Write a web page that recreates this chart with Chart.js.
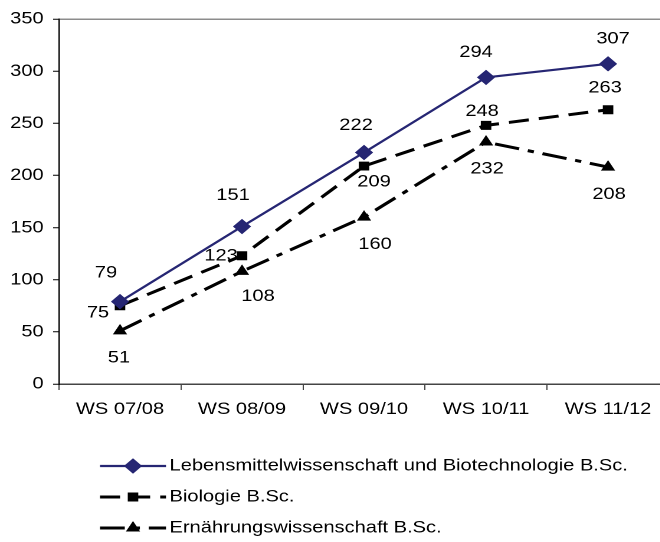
<!DOCTYPE html>
<html>
<head>
<meta charset="utf-8">
<script src="https://cdn.jsdelivr.net/npm/chart.js@4.4.0/dist/chart.umd.min.js"></script>
<style>
  html, body { margin: 0; padding: 0; background: #fff; overflow: hidden; }
  #graph_div { width: 660px; height: 542px; overflow: hidden; }
  #my_chart { transform: scaleX(1.18); transform-origin: 0 0; }
</style>
</head>
<body>
<div id="graph_div"><canvas id="my_chart" width="575" height="542"></canvas></div>
<script>
// the original picture is stretched sideways, so the chart is drawn narrow and scaled
const stretch = 1.18;

const semesters = ['WS 07/08', 'WS 08/09', 'WS 09/10', 'WS 10/11', 'WS 11/12'];
const series_names = [
  'Lebensmittelwissenschaft und Biotechnologie B.Sc.',
  'Biologie B.Sc.',
  'Ernährungswissenschaft B.Sc.'
];
const lebensmittel = [79, 151, 222, 294, 307];
const biologie = [75, 123, 209, 248, 263];
const ernaehrung = [51, 108, 160, 232, 208];
const y_ticks = [0, 50, 100, 150, 200, 250, 300, 350];

// where each value label sits relative to its point (picture pixels)
const label_shift = [
  [[-14, -29], [-9, -31], [-8, -27], [-10, -25], [5, -25]],
  [[-22, 7], [-21, 0], [10, 16], [-4, -14], [-3, -22]],
  [[-1, 27], [16, 25], [11, 27], [1, 27], [1, 27]]
];

const navy = '#262673';
const font_family = "'Liberation Sans', Arial, sans-serif";
const font_size = 17;

const value_labels = {
  id: 'value_labels',
  afterDatasetsDraw(chart) {
    const ctx = chart.ctx;
    ctx.save();
    ctx.font = font_size + 'px ' + font_family;
    ctx.fillStyle = '#000';
    ctx.textAlign = 'center';
    ctx.textBaseline = 'middle';
    chart.data.datasets.forEach(function(ds, i) {
      const meta = chart.getDatasetMeta(i);
      meta.data.forEach(function(pt, j) {
        const s = label_shift[i][j];
        ctx.fillText(String(ds.data[j]), pt.x + s[0] / stretch, pt.y + s[1]);
      });
    });
    ctx.restore();
  }
};

// legend stacked under the axis like the original
const stacked_legend = {
  id: 'stacked_legend',
  afterDraw(chart) {
    const ctx = chart.ctx;
    const rows = [466, 497, 528];
    const x0 = 100 / stretch, x1 = 166 / stretch;
    chart.data.datasets.forEach(function(ds, i) {
      const y = rows[i];
      ctx.save();
      ctx.strokeStyle = ds.borderColor;
      ctx.lineWidth = ds.borderWidth;
      ctx.setLineDash(ds.borderDash || []);
      ctx.beginPath();
      ctx.moveTo(x0, y);
      ctx.lineTo(x1, y);
      ctx.stroke();
      ctx.setLineDash([]);
      ctx.fillStyle = ds.pointBackgroundColor;
      ctx.strokeStyle = ds.pointBorderColor;
      ctx.lineWidth = 1;
      Chart.helpers.drawPoint(ctx, {
        pointStyle: ds.pointStyle,
        rotation: 0,
        borderWidth: 1,
        radius: ds.pointRadius
      }, (x0 + x1) / 2, y);
      ctx.font = font_size + 'px ' + font_family;
      ctx.fillStyle = '#000';
      ctx.textAlign = 'left';
      ctx.textBaseline = 'middle';
      ctx.fillText(ds.label, x1 + 3, y);
      ctx.restore();
    });
  }
};

function create_chart() {
  const data = {
    labels: semesters,
    datasets: [{
      label: series_names[0],
      data: lebensmittel,
      borderColor: navy,
      borderWidth: 2.2,
      pointStyle: 'rectRot',
      pointRadius: 7,
      pointBackgroundColor: navy,
      pointBorderColor: navy,
      pointBorderWidth: 1
    }, {
      label: series_names[1],
      data: biologie,
      borderColor: '#000',
      borderWidth: 3,
      borderDash: [17, 8.5],
      pointStyle: 'rect',
      pointRadius: 5.6,
      pointBackgroundColor: '#000',
      pointBorderColor: '#000',
      pointBorderWidth: 1
    }, {
      label: series_names[2],
      data: ernaehrung,
      borderColor: '#000',
      borderWidth: 3,
      borderDash: [21, 7.5, 5.3, 7.5],
      pointStyle: 'triangle',
      pointRadius: 6,
      pointBackgroundColor: '#000',
      pointBorderColor: '#000',
      pointBorderWidth: 1
    }]
  };

  const config = {
    type: 'line',
    data,
    options: {
      responsive: false,
      animation: false,
      devicePixelRatio: 2,
      layout: { padding: { top: 19, right: 4, left: 0, bottom: 0 } },
      elements: { line: { tension: 0 } },
      plugins: {
        legend: { display: false },
        tooltip: { enabled: false }
      },
      scales: {
        x: {
          offset: true,
          grid: {
            offset: true,
            drawOnChartArea: false,
            tickLength: 6,
            tickColor: '#444',
            tickWidth: 1
          },
          border: { color: '#444', width: 1.5 },
          ticks: {
            color: '#000',
            padding: 9,
            maxRotation: 0,
            font: { family: font_family, size: font_size }
          },
          afterFit: function(scale) { scale.height = 158; }
        },
        y: {
          min: 0,
          max: 350,
          afterBuildTicks: function(scale) {
            scale.ticks = y_ticks.map(function(v) { return { value: v }; });
          },
          grid: {
            color: function(c) { return c.tick && c.tick.value === 350 ? '#8c8c8c' : 'rgba(0,0,0,0)'; },
            lineWidth: 1.5,
            tickLength: 5,
            tickColor: '#000',
            tickWidth: 1
          },
          border: { color: '#000', width: 1.2 },
          ticks: {
            color: '#000',
            padding: 8,
            font: { family: font_family, size: font_size }
          },
          afterFit: function(scale) { scale.width = 59 / stretch; }
        }
      }
    },
    plugins: [value_labels, stacked_legend]
  };

  const canv = document.getElementById('my_chart');
  new Chart(canv.getContext('2d'), config);
}

create_chart();
</script>
</body>
</html>
